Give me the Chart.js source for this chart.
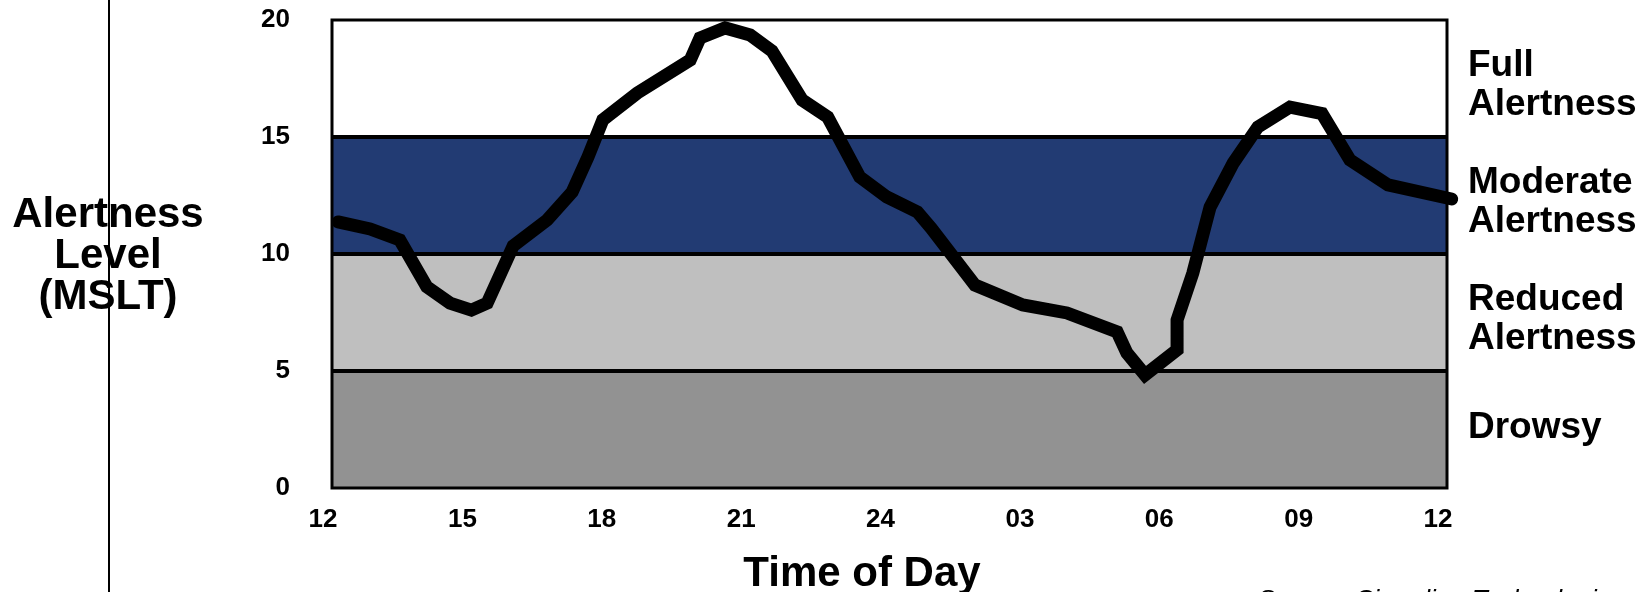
<!DOCTYPE html>
<html>
<head>
<meta charset="utf-8">
<script src="https://cdn.jsdelivr.net/npm/chart.js@4.4.0/dist/chart.umd.min.js"></script>
<style>
  html, body { margin: 0; padding: 0; background: #fff; }
  #wrap { width: 1644px; height: 592px; }
</style>
</head>
<body>
<div id="wrap"><canvas id="alertChart" width="1644" height="592"></canvas></div>
<script>
// alertness curve (hour of day, 12 -> 36 = noon to next noon)
const hours = [12.13, 12.82, 13.46, 14.04, 14.54, 15.0, 15.34, 15.9, 16.63, 17.17,
  17.51, 17.83, 18.57, 19.71, 19.92, 20.46, 21.0, 21.47, 22.12, 22.67,
  23.36, 23.94, 24.6, 24.9, 25.84, 26.87, 27.82, 28.9, 29.11, 29.5,
  30.19, 30.19, 30.53, 30.9, 31.4, 31.93, 32.62, 33.31, 33.91, 34.73, 36.1];
const alertness = [11.37, 11.07, 10.6, 8.6, 7.9, 7.6, 7.9, 10.35, 11.45, 12.65,
  14.15, 15.73, 16.88, 18.29, 19.23, 19.66, 19.36, 18.68, 16.58, 15.85,
  13.29, 12.44, 11.8, 11.1, 8.67, 7.82, 7.48, 6.67, 5.77, 4.83,
  5.9, 7.18, 9.19, 12.0, 13.89, 15.43, 16.28, 16.0, 14.02, 12.95, 12.35];

const tickHours = [12, 15, 18, 21, 24, 27, 30, 33, 36];
const tickLabels = ['12', '15', '18', '21', '24', '03', '06', '09', '12'];
const levelTicks = [0, 5, 10, 15, 20];

const bandLows = [0, 5, 10, 15];
const bandHighs = [5, 10, 15, 20];
const bandNames = [['Drowsy'], ['Reduced', 'Alertness'], ['Moderate', 'Alertness'], ['Full', 'Alertness']];
const bandColors = ['#929292', '#bfbfbf', '#223b73', '#ffffff'];

const yTitle = ['Alertness', 'Level', '(MSLT)'];
const xTitle = 'Time of Day';
const sourceNote = 'Source: Circadian Technologies';

const FONT = '"Liberation Sans", Arial, sans-serif';

// coloured bands + black band edges and frame, under the curve
const bandsPlugin = {
  id: 'bands',
  beforeDatasetsDraw(chart) {
    const { ctx, chartArea: a, scales: { y } } = chart;
    ctx.save();
    bandLows.forEach((lo, i) => {
      const top = y.getPixelForValue(bandHighs[i]);
      const bot = y.getPixelForValue(lo);
      ctx.fillStyle = bandColors[i];
      ctx.fillRect(a.left, top, a.right - a.left, bot - top);
    });
    ctx.strokeStyle = '#000';
    ctx.lineWidth = 4;
    bandLows.slice(1).forEach(v => {
      const py = y.getPixelForValue(v);
      ctx.beginPath();
      ctx.moveTo(a.left, py);
      ctx.lineTo(a.right, py);
      ctx.stroke();
    });
    ctx.lineWidth = 3;
    ctx.strokeRect(a.left, a.top, a.right - a.left, a.bottom - a.top);
    ctx.restore();
  }
};

// titles, band names, divider line, source note
const textPlugin = {
  id: 'texts',
  afterDraw(chart) {
    const { ctx, scales: { y } } = chart;
    ctx.save();
    ctx.fillStyle = '#000';

    // band names on the right
    ctx.font = 'bold 37px ' + FONT;
    ctx.textAlign = 'left';
    ctx.textBaseline = 'middle';
    bandNames.forEach((lines, i) => {
      const mid = y.getPixelForValue((bandLows[i] + bandHighs[i]) / 2);
      const start = mid - (lines.length - 1) * 39 / 2 + (lines.length > 1 ? 7 : -2);
      lines.forEach((t, k) => ctx.fillText(t, 1468, start + k * 39));
    });

    // y title, three lines
    ctx.font = 'bold 42px ' + FONT;
    ctx.textAlign = 'center';
    const midY = y.getPixelForValue(10) + 2;
    yTitle.forEach((t, k) => ctx.fillText(t, 108, midY - 41 + k * 41));

    // divider line
    ctx.fillRect(108, 0, 2, 592);

    // x title
    ctx.fillText(xTitle, 862, 574);

    // source (cut off at bottom)
    ctx.font = 'italic 26px ' + FONT;
    ctx.textAlign = 'left';
    ctx.textBaseline = 'alphabetic';
    ctx.fillText(sourceNote, 1258, 608);
    ctx.restore();
  }
};

const ctx = document.getElementById('alertChart').getContext('2d');
const alertChart = new Chart(ctx, {
  type: 'line',
  data: {
    datasets: [{
      data: hours.map((h, i) => ({ x: h, y: alertness[i] })),
      borderColor: '#000',
      borderWidth: 13,
      pointRadius: 0,
      tension: 0,
      borderCapStyle: 'round',
      borderJoinStyle: 'miter',
      clip: false
    }]
  },
  options: {
    responsive: false,
    animation: false,
    layout: { padding: { left: 0, right: 197, top: 20, bottom: 0 } },
    plugins: {
      legend: { display: false },
      tooltip: { enabled: false }
    },
    scales: {
      x: {
        type: 'linear',
        min: 12,
        max: 36,
        afterBuildTicks: s => { s.ticks = tickHours.map(v => ({ value: v })); },
        afterFit: s => { s.height = 104; },
        ticks: {
          callback: v => tickLabels[tickHours.indexOf(v)],
          color: '#000',
          font: { family: FONT, size: 26, weight: 'bold' },
          padding: 0,
          labelOffset: -9,
          maxRotation: 0,
          autoSkip: false
        },
        // tick marks hidden, tickLength only used as label gap
        grid: { display: false, drawTicks: true, tickLength: 16 },
        border: { display: false }
      },
      y: {
        min: 0,
        max: 20,
        afterBuildTicks: s => { s.ticks = levelTicks.map(v => ({ value: v })); },
        afterFit: s => { s.width = 332; },
        ticks: {
          color: '#000',
          font: { family: FONT, size: 26, weight: 'bold' },
          padding: 0
        },
        grid: { display: false, drawTicks: true, tickLength: 42 },
        border: { display: false }
      }
    }
  },
  plugins: [bandsPlugin, textPlugin]
});
</script>
</body>
</html>
